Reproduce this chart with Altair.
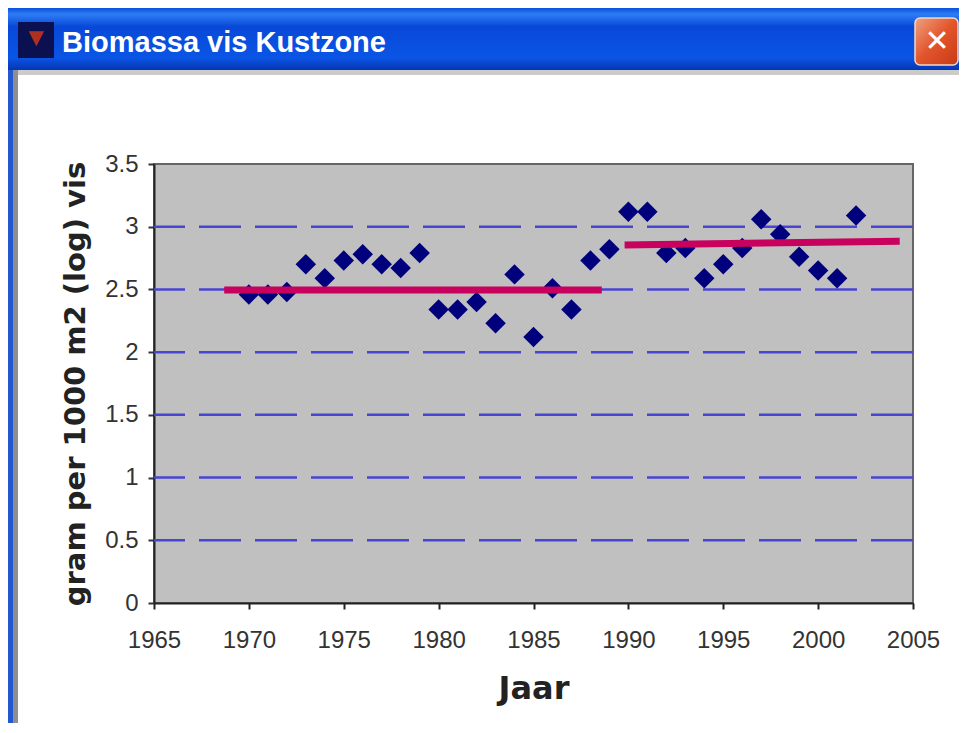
import altair as alt
import pandas as pd

years = list(range(1970, 2003))
biomass = [2.46, 2.46, 2.48, 2.70, 2.59, 2.73, 2.78, 2.70, 2.67, 2.79, 2.34, 2.34, 2.40, 2.23,
           2.62, 2.12, 2.51, 2.34, 2.73, 2.82, 3.12, 3.12, 2.79, 2.83, 2.59, 2.70, 2.83, 3.06,
           2.94, 2.76, 2.65, 2.59, 3.09]
trend_a_x = [1968.7, 1988.6]
trend_a_y = [2.495, 2.495]
trend_b_x = [1989.8, 2004.3]
trend_b_y = [2.855, 2.885]
grid_values = [0.5, 1, 1.5, 2, 2.5, 3]
y_ticks = [0, 0.5, 1, 1.5, 2, 2.5, 3, 3.5]
x_ticks = [1965, 1970, 1975, 1980, 1985, 1990, 1995, 2000, 2005]
window_title = "Biomassa vis Kustzone"
y_title = "gram per 1000 m2 (log) vis"
x_title = "Jaar"

W, H = 759, 439
L, T = 146, 156
xs = alt.Scale(domain=[1965, 2005], nice=False, zero=False)
ys = alt.Scale(domain=[0, 3.5], nice=False)
dummy = alt.Data(values=[{"a": 1}])

x_axis = alt.Axis(
    values=x_ticks, format="d", title=x_title, titleFont="DejaVu Sans", titleFontSize=32,
    titleFontWeight="bold", titleColor="#222", titlePadding=21, labelFont="Liberation Sans",
    labelFontSize=24, labelColor="#333", labelPadding=19, labelFlush=False, labelOverlap=False,
    domainColor="#222", domainWidth=2, tickColor="#222", tickWidth=2, tickSize=6, grid=False)
y_axis = alt.Axis(
    values=y_ticks, format="~g", title=y_title, titleFont="DejaVu Sans", titleFontSize=29,
    titleFontWeight="bold", titleColor="#222", titlePadding=14, labelFont="Liberation Sans",
    labelFontSize=24, labelColor="#333", labelPadding=10, labelOverlap=False,
    domainColor="#222", domainWidth=2, tickColor="#333", tickWidth=2, tickSize=6, grid=False)


def box(px0, py0, px1, py1, **mark):
    """Window furniture, given in page pixels."""
    return alt.Chart(dummy).mark_rect(**mark).encode(
        x=alt.value(px0 - 8 - L), x2=alt.value(px1 - 8 - L),
        y=alt.value(py0 - 8 - T), y2=alt.value(py1 - 8 - T))


def label(px, py, text, **mark):
    return alt.Chart(dummy).mark_text(text=text, **mark).encode(
        x=alt.value(px - 8 - L), y=alt.value(py - 8 - T))


bar_grad = alt.Gradient(gradient="linear", x1=0, x2=0, y1=0, y2=1, stops=[
    alt.GradientStop(color="#0a50dc", offset=0),
    alt.GradientStop(color="#2f7df5", offset=0.1),
    alt.GradientStop(color="#0848d8", offset=0.3),
    alt.GradientStop(color="#0a55e6", offset=0.8),
    alt.GradientStop(color="#0636b0", offset=1)])
close_grad = alt.Gradient(gradient="linear", x1=0, x2=1, y1=0, y2=1, stops=[
    alt.GradientStop(color="#f0a080", offset=0),
    alt.GradientStop(color="#e2542a", offset=0.5),
    alt.GradientStop(color="#c83a14", offset=1)])

frame = [
    box(8, 70, 13, 725, color="#2458d0"),
    box(13, 70, 18, 725, color="#8f8f8f"),
    box(8, 8, 959, 70, color=bar_grad),
    box(18, 70, 959, 75, color="#b5b5b5", opacity=0.7),
    box(18, 22, 54, 58, color="#0a1050"),
    box(915, 18, 958, 65, color=close_grad, stroke="#f4d8c8", strokeWidth=1.5, cornerRadius=5),
    label(36, 38, "▼", color="#b03020", fontSize=26, align="center", baseline="middle"),
    label(62, 43, window_title, color="white", fontSize=29, fontWeight="bold",
          font="Liberation Sans", align="left", baseline="middle"),
    label(937, 42, "✕", color="white", fontSize=30, fontWeight="bold",
          font="DejaVu Sans", align="center", baseline="middle"),
]

grid = alt.Chart(pd.DataFrame({"v": grid_values})).mark_rule(
    color="#4a44d4", strokeWidth=2.5, strokeDash=[42, 14]
).encode(y=alt.Y("v:Q", scale=ys, axis=y_axis))

points = alt.Chart(pd.DataFrame({"year": years, "value": biomass})).mark_point(
    shape="diamond", filled=True, color="#00007c", size=420, opacity=1
).encode(
    x=alt.X("year:Q", scale=xs, axis=x_axis),
    y=alt.Y("value:Q", scale=ys, axis=y_axis),
)


def trend(xv, yv):
    return alt.Chart(pd.DataFrame({"x": xv, "y": yv})).mark_line(
        color="#c8005e", strokeWidth=7, strokeCap="butt"
    ).encode(x=alt.X("x:Q", scale=xs, axis=x_axis), y=alt.Y("y:Q", scale=ys, axis=y_axis))


chart = alt.layer(
    grid, points, trend(trend_a_x, trend_a_y), trend(trend_b_x, trend_b_y), *frame
).properties(
    width=W, height=H,
    autosize=alt.AutoSizeParams(type="none"),
    padding={"left": L, "top": T, "right": 46, "bottom": 120},
    background="white",
).configure_view(fill="#c0c0c0", stroke="#666666", strokeWidth=2)

chart.save("out.html", embed_options={"renderer": "svg", "actions": False})
